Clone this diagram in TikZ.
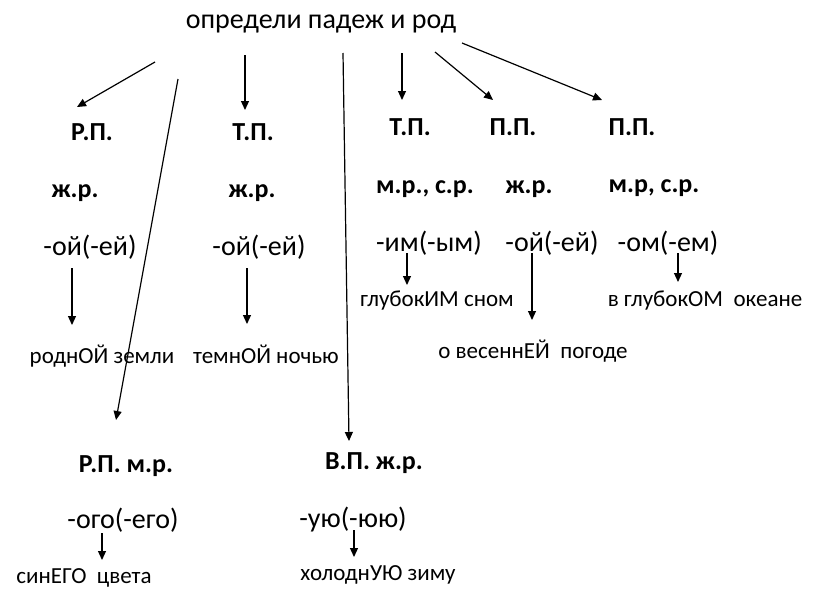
\documentclass[tikz,border=0pt]{standalone}
\usepackage{fontspec}
\setmainfont{Carlito}
\usetikzlibrary{arrows.meta}
\begin{document}
\begin{tikzpicture}[
			x=1pt,y=-1pt,
			title/.style={anchor=base,font=\fontsize{28}{30}\selectfont},
			case/.style={anchor=base,font=\fontsize{26}{28}\selectfont\bfseries},
			ending/.style={anchor=base,font=\fontsize{28}{30}\selectfont},
			word/.style={anchor=base,font=\fontsize{23}{25}\selectfont},
			arr/.style={line width=1.2pt,-{Triangle[length=9pt,width=8pt]}}
		]
		\useasboundingbox (0,0) rectangle (814,589);
		\node[title] (top) at (321,28) {определи падеж и род};
		% first row: cases
		\node[case] (rpA) at (92,140) {Р.П.};
		\node[case] (tpA) at (253,140) {Т.П.};
		\node[case] (tpB) at (410,135) {Т.П.};
		\node[case] (ppA) at (513,135) {П.П.};
		\node[case] (ppB) at (632,135) {П.П.};
		% second row: gender
		\node[case] (zrA) at (75,197) {ж.р.};
		\node[case] (zrB) at (252,197) {ж.р.};
		\node[case] (msA) at (425,193) {м.р., с.р.};
		\node[case] (zrC) at (529,193) {ж.р.};
		\node[case] (msB) at (654,192) {м.р, с.р.};
		% endings
		\node[ending] (oyA) at (90,255) {-ой(-ей)};
		\node[ending] (oyB) at (259,255) {-ой(-ей)};
		\node[ending] (im) at (429,251) {-им(-ым)};
		\node[ending] (oyC) at (552,251) {-ой(-ей)};
		\node[ending] (om) at (668,251) {-ом(-ем)};
		% examples
		\node[word] (rodn) at (102,363) {роднОЙ земли};
		\node[word] (temn) at (266,363) {темнОЙ ночью};
		\node[word] (glub) at (437,306) {глубокИМ сном};
		\node[word] (vesn) at (533,358) {о весеннЕЙ\ \ погоде};
		\node[word] (okean) at (705,306) {в глубокОМ\ \ океане};
		% lower part
		\node[case] (rpB) at (126,472) {Р.П. м.р.};
		\node[case] (vpB) at (374,469) {В.П. ж.р.};
		\node[ending] (ogo) at (123,528) {-ого(-его)};
		\node[ending] (uyu) at (353,527) {-ую(-юю)};
		\node[word] (sin) at (84,583) {синЕГО\ \ цвета};
		\node[word] (hol) at (378,580) {холоднУЮ зиму};
		% arrows from the title
		\draw[arr] ([shift={(-166,34)}]top.base) -- ([shift={(-15,-33)}]rpA.base);
		\draw[arr] ([shift={(-143,51)}]top.base) -- ([shift={(-10,-52)}]rpB.base);
		\draw[arr] ([shift={(-76,27)}]top.base) -- ([shift={(-8,-30)}]tpA.base);
		\draw[arr] ([shift={(22,25)}]top.base) -- ([shift={(-25,-28)}]vpB.base);
		\draw[arr] ([shift={(81,25)}]top.base) -- ([shift={(-8,-35)}]tpB.base);
		\draw[arr] ([shift={(114,24)}]top.base) -- ([shift={(-20,-35)}]ppA.base);
		\draw[arr] ([shift={(141,15)}]top.base) -- ([shift={(-30,-35)}]ppB.base);
		% arrows to the examples
		\draw[arr] ([shift={(-18,13)}]oyA.base) -- ([shift={(-30,-38)}]rodn.base);
		\draw[arr] ([shift={(-12,13)}]oyB.base) -- ([shift={(-19,-39)}]temn.base);
		\draw[arr] ([shift={(-22,2)}]im.base) -- ([shift={(-30,-21)}]glub.base);
		\draw[arr] ([shift={(-20,2)}]oyC.base) -- ([shift={(-1,-38)}]vesn.base);
		\draw[arr] ([shift={(10,2)}]om.base) -- ([shift={(-27,-24)}]okean.base);
		\draw[arr] ([shift={(-21,5)}]ogo.base) -- ([shift={(18,-23)}]sin.base);
		\draw[arr] ([shift={(1,3)}]uyu.base) -- ([shift={(-24,-23)}]hol.base);
	\end{tikzpicture}
\end{document}
